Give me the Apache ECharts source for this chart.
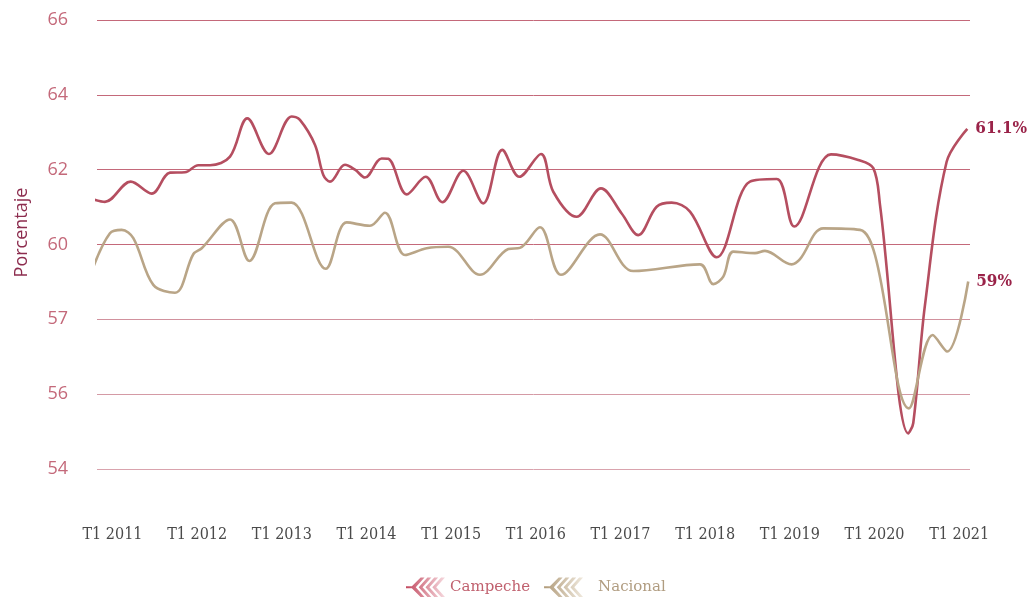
<!DOCTYPE html>
<html>
<head>
<meta charset="utf-8">
<script src="https://cdn.jsdelivr.net/npm/echarts@6/dist/echarts.min.js"></script>
<style>
html,body{margin:0;padding:0;background:#fff;}
#chart{width:1032px;height:597px;}
</style>
</head>
<body>
<div id="chart"></div>
<script>
// Time in fractional years (T1 of each year = integer), values in percent
const campecheT = [2010.770,2010.911,2011.215,2011.463,2011.679,2011.856,2012.013,2012.152,2012.388,2012.592,2012.848,2013.116,2013.214,2013.392,2013.490,2013.569,2013.746,2013.864,2013.982,2014.179,2014.257,2014.475,2014.699,2014.895,2015.143,2015.379,2015.604,2015.805,2016.061,2016.206,2016.482,2016.769,2017.014,2017.210,2017.427,2017.604,2017.821,2018.136,2018.529,2018.845,2019.052,2019.486,2019.808,2019.986,2020.065,2020.399,2020.458,2020.596,2020.852,2021.096];
const campecheV = [61.21,61.14,61.68,61.36,61.92,61.93,62.12,62.12,62.35,63.37,62.42,63.42,63.33,62.66,61.86,61.68,62.13,62.00,61.79,62.30,62.29,61.34,61.81,61.13,61.97,61.10,62.53,61.81,62.42,61.41,60.74,61.50,60.83,60.25,61.01,61.12,60.88,59.66,61.68,61.75,60.48,62.41,62.26,62.04,61.06,54.95,55.23,58.38,62.21,63.09];
const nacionalT = [2010.770,2010.970,2011.109,2011.246,2011.482,2011.738,2011.954,2012.054,2012.388,2012.616,2012.919,2013.116,2013.518,2013.766,2014.041,2014.218,2014.455,2014.711,2014.966,2015.340,2015.675,2015.813,2016.049,2016.297,2016.758,2017.151,2017.939,2018.096,2018.214,2018.332,2018.588,2018.706,2019.022,2019.120,2019.395,2019.829,2020.006,2020.407,2020.687,2020.859,2021.107];
const nacionalV = [59.38,60.30,60.39,60.17,58.92,58.71,59.74,59.90,60.67,59.56,61.10,61.12,59.35,60.59,60.50,60.85,59.72,59.90,59.94,59.19,59.88,59.91,60.46,59.19,60.27,59.29,59.47,58.94,59.14,59.81,59.77,59.83,59.47,59.61,60.43,60.39,59.72,55.62,57.58,57.14,59.01];
const seriesNames = ['Campeche','Nacional'];
const endLabels = ['61.1%','59%'];
const xTickYears = [2011,2012,2013,2014,2015,2016,2017,2018,2019,2020,2021];
const yTickLabels = {54:'54',56:'56',58:'57',60:'60',62:'62',64:'64',66:'66'};

const pair = (ts, vs) => ts.map((t, i) => [t, vs[i]]);

const chart = echarts.init(document.getElementById('chart'));
const chevron = 'path://M0,9L6,9L15,0L19,0L10,10L19,20L15,20L6,11L0,11Z M22,0L26,0L17,10L26,20L22,20L13,10Z M29,0L33,0L24,10L33,20L29,20L20,10Z M36,0L40,0L31,10L40,20L36,20L27,10Z';
const grad = (c1, c2) => ({type:'linear',x:0,y:0,x2:1,y2:0,colorStops:[{offset:0,color:c1},{offset:1,color:c2}]});

chart.setOption({
  animation: false,
  grid: {left: 97, right: 62, top: 20, bottom: 128},
  legend: {
    bottom: -5, left: 401,
    itemWidth: 39, itemHeight: 20, itemGap: 14,
    icon: chevron,
    textStyle: {fontFamily: "'DejaVu Serif', serif", fontSize: 15},
    data: [
      {name: seriesNames[0], itemStyle: {color: grad('#c2485e','#f6d9de')}, textStyle: {color: '#c0606e'}},
      {name: seriesNames[1], itemStyle: {color: grad('#b09a78','#efe8dc')}, textStyle: {color: '#b09c80', padding: [0,0,0,10]}}
    ]
  },
  xAxis: {
    type: 'value',
    min: 2010.817, max: 2021.128,
    axisLine: {show: false}, axisTick: {show: false}, splitLine: {show: false},
    axisLabel: {
      customValues: xTickYears,
      formatter: v => 'T1 ' + Math.round(v),
      margin: 58,
      color: '#4a4a4a',
      fontSize: 16,
      fontFamily: "'DejaVu Serif Condensed', 'DejaVu Serif', serif"
    }
  },
  yAxis: {
    type: 'value', min: 54, max: 66, interval: 2,
    name: 'Porcentaje', nameLocation: 'middle', nameRotate: 90, nameGap: 66,
    nameTextStyle: {color: '#8c2c4e', fontSize: 18, fontFamily: "'Open Sans', sans-serif", padding: [0,0,0,24]},
    axisLine: {show: false}, axisTick: {show: false},
    axisLabel: {
      formatter: v => yTickLabels[v] || '',
      margin: 29, color: '#c4697a', fontSize: 18, fontFamily: "'Open Sans', sans-serif"
    },
    splitLine: {lineStyle: {color: ['#d9a3ad','#d49aa5','#d1919d','#c4697a','#c4697a','#c4697a','#c4697a'], width: 1}}
  },
  series: [
    {
      name: seriesNames[0], type: 'line', data: pair(campecheT, campecheV),
      smooth: 0.35, showSymbol: false, clip: false,
      lineStyle: {color: '#b54e60', width: 2.6}, itemStyle: {color: '#b54e60'},
      endLabel: {show: true, formatter: () => endLabels[0], distance: 8, color: '#9a2349', fontSize: 17, fontWeight: 'bold', fontFamily: "'DejaVu Serif Condensed', 'DejaVu Serif', serif"}
    },
    {
      name: seriesNames[1], type: 'line', data: pair(nacionalT, nacionalV),
      smooth: 0.35, showSymbol: false, clip: false,
      lineStyle: {color: '#b9a587', width: 2.6}, itemStyle: {color: '#b9a587'},
      endLabel: {show: true, formatter: () => endLabels[1], distance: 8, color: '#9a2349', fontSize: 17, fontWeight: 'bold', fontFamily: "'DejaVu Serif Condensed', 'DejaVu Serif', serif"}
    }
  ]
});
</script>
</body>
</html>
